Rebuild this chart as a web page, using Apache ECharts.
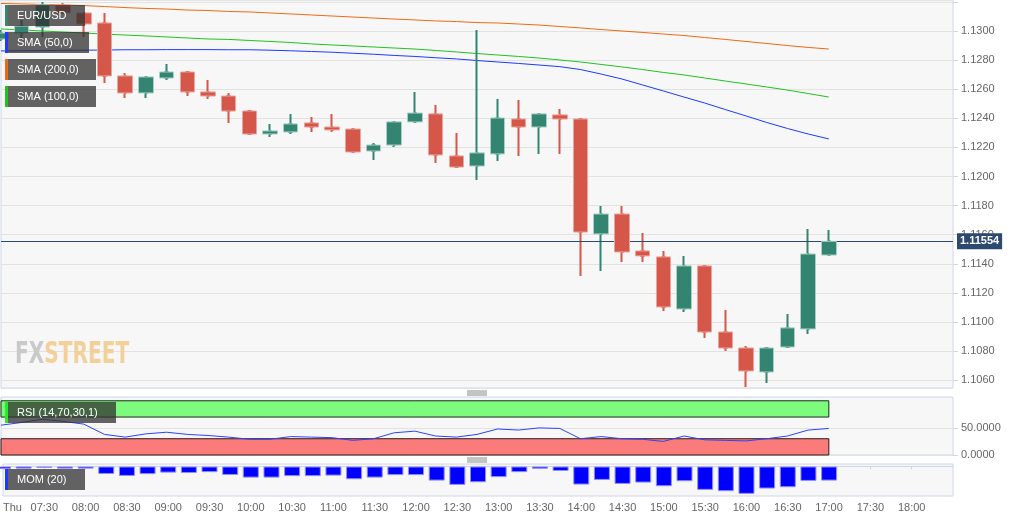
<!DOCTYPE html>
<html>
<head>
<meta charset="utf-8">
<script src="https://cdn.jsdelivr.net/npm/echarts@6/dist/echarts.min.js"></script>
<style>
  html, body { margin: 0; padding: 0; background: #fff; }
  #chart { width: 1025px; height: 521px; }
</style>
</head>
<body>
<div id="chart"></div>
<script>
// 15 minute slots, first one is the day marker
const times = [
  'Thu', '07:15', '07:30', '07:45', '08:00', '08:15', '08:30', '08:45',
  '09:00', '09:15', '09:30', '09:45', '10:00', '10:15', '10:30', '10:45',
  '11:00', '11:15', '11:30', '11:45', '12:00', '12:15', '12:30', '12:45',
  '13:00', '13:15', '13:30', '13:45', '14:00', '14:15', '14:30', '14:45',
  '15:00', '15:15', '15:30', '15:45', '16:00', '16:15', '16:30', '16:45',
  '17:00', '17:15', '17:30', '17:45', '18:00', '18:15', '18:30'
];

const open = [
  1.12945, 1.12986, 1.13027, 1.13179, 1.13124, 1.13055, 1.12691, 1.12574,
  1.12677, 1.12718, 1.12581, 1.12553, 1.12450, 1.12292, 1.12306, 1.12368,
  1.12340, 1.12326, 1.12175, 1.12216, 1.12375, 1.12430, 1.12141, 1.12072,
  1.12155, 1.12395, 1.12340, 1.12423, 1.12395, 1.11605, 1.11742, 1.11488,
  1.11447, 1.11089, 1.11385, 1.10931, 1.10821, 1.10656, 1.10828, 1.10952,
  1.11460
];
const close = [
  1.12986, 1.13034, 1.13179, 1.13124, 1.13048, 1.12691, 1.12574, 1.12684,
  1.12718, 1.12581, 1.12553, 1.12450, 1.12292, 1.12313, 1.12361, 1.12340,
  1.12320, 1.12168, 1.12216, 1.12375, 1.12436, 1.12148, 1.12065, 1.12162,
  1.12402, 1.12340, 1.12430, 1.12395, 1.11618, 1.11742, 1.11481, 1.11454,
  1.11103, 1.11385, 1.10931, 1.10821, 1.10663, 1.10821, 1.10959, 1.11467,
  1.11554
];
const low = [
  1.12931, 1.12952, 1.12959, 1.13117, 1.12959, 1.12643, 1.12540, 1.12540,
  1.12663, 1.12553, 1.12533, 1.12368, 1.12285, 1.12272, 1.12292, 1.12306,
  1.12306, 1.12162, 1.12113, 1.12203, 1.12368, 1.12093, 1.12058, 1.11976,
  1.12106, 1.12141, 1.12155, 1.12155, 1.11316, 1.11350, 1.11412, 1.11412,
  1.11076, 1.11069, 1.10890, 1.10801, 1.10553, 1.10581, 1.10828, 1.10917,
  1.11454
];
const high = [
  1.13007, 1.13076, 1.13199, 1.13193, 1.13131, 1.13124, 1.12711, 1.12690,
  1.12773, 1.12725, 1.12663, 1.12574, 1.12457, 1.12361, 1.12430, 1.12409,
  1.12430, 1.12333, 1.12230, 1.12381, 1.12581, 1.12491, 1.12299, 1.13007,
  1.12533, 1.12526, 1.12436, 1.12464, 1.12402, 1.11797, 1.11797, 1.11612,
  1.11488, 1.11454, 1.11392, 1.11082, 1.10835, 1.10828, 1.11055, 1.11639,
  1.11632
];

const sma50 = [
  1.12863, 1.12864, 1.12865, 1.12867, 1.12868, 1.12869, 1.12871, 1.12871,
  1.12872, 1.12872, 1.12872, 1.12871, 1.12871, 1.12868, 1.12864, 1.12859,
  1.12854, 1.12847, 1.12840, 1.12832, 1.12825, 1.12816, 1.12808, 1.12797,
  1.12787, 1.12777, 1.12766, 1.12755, 1.12735, 1.12704, 1.12670, 1.12629,
  1.12588, 1.12546, 1.12505, 1.12460, 1.12416, 1.12371, 1.12330, 1.12292,
  1.12258
];
const sma200 = [
  1.13189, 1.13186, 1.13182, 1.13179, 1.13175, 1.13168, 1.13161, 1.13155,
  1.13151, 1.13144, 1.13141, 1.13134, 1.13131, 1.13124, 1.13117, 1.13110,
  1.13103, 1.13096, 1.13089, 1.13082, 1.13076, 1.13069, 1.13065, 1.13058,
  1.13055, 1.13048, 1.13041, 1.13031, 1.13021, 1.13010, 1.13000, 1.12990,
  1.12979, 1.12969, 1.12955, 1.12942, 1.12928, 1.12914, 1.12900, 1.12887,
  1.12876
];
const sma100 = [
  1.13014, 1.13007, 1.13000, 1.12993, 1.12986, 1.12979, 1.12972, 1.12966,
  1.12959, 1.12952, 1.12945, 1.12942, 1.12935, 1.12928, 1.12921, 1.12911,
  1.12904, 1.12897, 1.12890, 1.12883, 1.12876, 1.12866, 1.12856, 1.12845,
  1.12835, 1.12825, 1.12814, 1.12801, 1.12787, 1.12770, 1.12753, 1.12735,
  1.12715, 1.12698, 1.12677, 1.12656, 1.12636, 1.12615, 1.12594, 1.12570,
  1.12546
];

const rsi = [
  55, 60, 66, 62, 57, 38, 33, 39, 42, 38, 36, 33, 29, 29, 34, 33,
  32, 27, 30, 41, 44, 35, 33, 38, 48, 46, 50, 49, 30, 34, 30, 29,
  25, 35, 28, 27, 26, 30, 35, 46, 49
];
const rsiUpper = 70;
const rsiLower = 30;

const mom = [
  -0.0016, -0.0013, -0.0008, -0.0013, -0.0013, -0.0045, -0.0057, -0.0046,
  -0.0037, -0.0039, -0.0034, -0.0051, -0.0067, -0.0067, -0.0058, -0.0058,
  -0.0055, -0.0077, -0.0067, -0.0052, -0.0052, -0.0085, -0.0111, -0.0095,
  -0.0064, -0.0034, -0.0014, -0.0027, -0.0109, -0.0081, -0.0105, -0.0097,
  -0.0119, -0.0089, -0.0141, -0.0149, -0.0165, -0.0133, -0.0125, -0.0087,
  -0.0085
];

const FONT = '"Liberation Sans", Arial, sans-serif';
const UP = '#338571';
const DOWN = '#d4574a';
const lastPrice = close[close.length - 1];

const wicks = open.map((o, i) => [o, close[i], low[i], high[i]]);
const bodies = open.map((o, i) => [o, close[i], Math.min(o, close[i]), Math.max(o, close[i])]);

const chart = echarts.init(document.getElementById('chart'));

const gridBase = {
  show: true,
  left: 1,
  right: 72,
  backgroundColor: '#f7f7f7',
  borderColor: '#ccd6eb',
  borderWidth: 1
};

function hiddenX(gridIndex) {
  return {
    type: 'category',
    gridIndex,
    data: times,
    boundaryGap: false,
    axisLine: { show: false },
    axisTick: { show: false },
    axisLabel: { show: false },
    splitLine: { show: false }
  };
}

const everyHalfHour = i => i % 2 === 0 && i < times.length - 1;

// legend chip: coloured marker + translucent dark box + white label
function legendBox(y, width, color, text) {
  return [
    { type: 'rect', z: 100, shape: { x: 5, y, width: 3, height: 21 }, style: { fill: color } },
    { type: 'rect', z: 100, shape: { x: 8, y, width, height: 21 }, style: { fill: 'rgba(48,48,48,0.75)' } },
    {
      type: 'text', z: 101, x: 17, y: y + 11,
      style: { text, fill: '#fff', font: '11px ' + FONT, verticalAlign: 'middle' }
    }
  ];
}

function handle(y) {
  return [0, 2, 4].map(d => ({
    type: 'line',
    z: 100,
    shape: { x1: 467, y1: y + d, x2: 487, y2: y + d },
    style: { stroke: '#8a8a8a', lineWidth: 1 }
  }));
}

chart.setOption({
  animation: false,
  backgroundColor: '#ffffff',
  textStyle: { fontFamily: FONT },
  grid: [
    Object.assign({ top: 0, height: 388 }, gridBase),
    Object.assign({ top: 397, height: 58 }, gridBase),
    Object.assign({ top: 464, height: 32 }, gridBase)
  ],
  xAxis: [
    hiddenX(0),
    hiddenX(1),
    {
      type: 'category',
      gridIndex: 2,
      data: times,
      boundaryGap: false,
      axisLine: { lineStyle: { color: '#ccd6eb' } },
      axisTick: { interval: everyHalfHour, length: 3, lineStyle: { color: '#ccd6eb' } },
      axisLabel: {
        interval: everyHalfHour,
        color: '#666',
        fontSize: 11,
        margin: 6,
        alignMinLabel: 'left'
      },
      splitLine: { show: false }
    }
  ],
  yAxis: [
    {
      type: 'value',
      gridIndex: 0,
      position: 'right',
      min: 1.10546,
      max: 1.13213,
      splitNumber: 13,
      minInterval: 0.002,
      maxInterval: 0.002,
      axisLine: { show: false },
      axisTick: { show: true, length: 5, lineStyle: { color: '#ccd6eb' } },
      axisLabel: {
        color: '#666',
        fontSize: 11,
        margin: 8,
        showMinLabel: false,
        showMaxLabel: false,
        formatter: v => (v > 1.131 ? '' : v.toFixed(4))
      },
      splitLine: { lineStyle: { color: '#e2e2e2' } }
    },
    {
      type: 'value',
      gridIndex: 1,
      position: 'right',
      min: 0,
      max: 107,
      minInterval: 50,
      maxInterval: 50,
      axisLine: { show: false },
      axisTick: { show: true, length: 5, customValues: [0, 50], lineStyle: { color: '#ccd6eb' } },
      axisLabel: {
        color: '#666',
        fontSize: 11,
        margin: 8,
        customValues: [0, 50],
        formatter: v => (v === 0 || v === 50 ? v.toFixed(4) : '')
      },
      splitLine: { lineStyle: { color: '#e2e2e2' } }
    },
    {
      type: 'value',
      gridIndex: 2,
      position: 'right',
      min: -0.0178,
      max: 0.0015,
      axisLine: { show: false },
      axisTick: { show: false },
      axisLabel: { show: false },
      splitLine: { show: false }
    }
  ],
  series: [
    {
      name: 'SMA (200,0)',
      type: 'line',
      data: sma200,
      symbol: 'none',
      lineStyle: { color: '#ef6a12', width: 1 },
      z: 3,
      // current price line with its tag on the right
      markLine: {
        silent: true,
        precision: 5,
        symbol: ['none', 'none'],
        lineStyle: { color: '#2c4a70', width: 1, type: 'solid' },
        label: {
          position: 'end',
          distance: 4,
          formatter: () => lastPrice.toFixed(5),
          color: '#fff',
          backgroundColor: '#2c4a70',
          padding: [3, 3, 2, 3],
          fontWeight: 'bold',
          fontSize: 11,
          fontFamily: FONT
        },
        data: [{ yAxis: lastPrice }]
      }
    },
    {
      name: 'SMA (100,0)',
      type: 'line',
      data: sma100,
      symbol: 'none',
      lineStyle: { color: '#1fc41f', width: 1 },
      z: 3
    },
    {
      name: 'SMA (50,0)',
      type: 'line',
      data: sma50,
      symbol: 'none',
      lineStyle: { color: '#1a3cff', width: 1 },
      z: 3
    },
    {
      name: 'EUR/USD wicks',
      type: 'candlestick',
      data: wicks,
      barWidth: 2,
      itemStyle: {
        color: UP,
        color0: DOWN,
        borderColor: UP,
        borderColor0: DOWN,
        borderWidth: 2
      },
      z: 4
    },
    {
      name: 'EUR/USD',
      type: 'candlestick',
      data: bodies,
      barWidth: 15,
      itemStyle: {
        color: UP,
        color0: DOWN,
        borderColor: '#a7cfc5',
        borderColor0: '#eca49c',
        borderWidth: 1
      },
      z: 5
    },
    {
      name: 'RSI (14,70,30,1)',
      type: 'line',
      xAxisIndex: 1,
      yAxisIndex: 1,
      data: rsi,
      symbol: 'none',
      lineStyle: { color: '#2b43ff', width: 1 },
      z: 5,
      markArea: {
        silent: true,
        data: [
          [
            { xAxis: 0, yAxis: rsiUpper, itemStyle: { color: '#7dfb7d', borderColor: '#1b2b1b', borderWidth: 1 } },
            { xAxis: rsi.length - 1, yAxis: 100 }
          ],
          [
            { xAxis: 0, yAxis: 0, itemStyle: { color: '#fb7b7b', borderColor: '#2b1b1b', borderWidth: 1 } },
            { xAxis: rsi.length - 1, yAxis: rsiLower }
          ]
        ]
      }
    },
    {
      name: 'MOM (20)',
      type: 'bar',
      xAxisIndex: 2,
      yAxisIndex: 2,
      data: mom,
      barWidth: 16,
      itemStyle: { color: '#0000ff', borderColor: '#8f8fff', borderWidth: 1 }
    }
  ],
  graphic: [
    {
      type: 'text',
      x: 15,
      y: 339,
      scaleX: 0.65,
      z: 1,
      style: {
        text: '{a|FX}{b|STREET}',
        rich: {
          a: { fill: '#c9c9c9', font: 'bold 31px "DejaVu Sans", sans-serif' },
          b: { fill: '#f2d09a', font: 'bold 31px "DejaVu Sans", sans-serif' }
        }
      }
    },
    ...legendBox(5, 77, '#338571', 'EUR/USD'),
    ...legendBox(32, 81, '#1a3cff', 'SMA (50,0)'),
    ...legendBox(59, 88, '#ef6a12', 'SMA (200,0)'),
    ...legendBox(86, 88, '#1fc41f', 'SMA (100,0)'),
    ...legendBox(402, 108, '#22ee22', 'RSI (14,70,30,1)'),
    ...legendBox(469, 77, '#1a3cff', 'MOM (20)'),
    ...handle(391),
    ...handle(458)
  ]
});
</script>
</body>
</html>
